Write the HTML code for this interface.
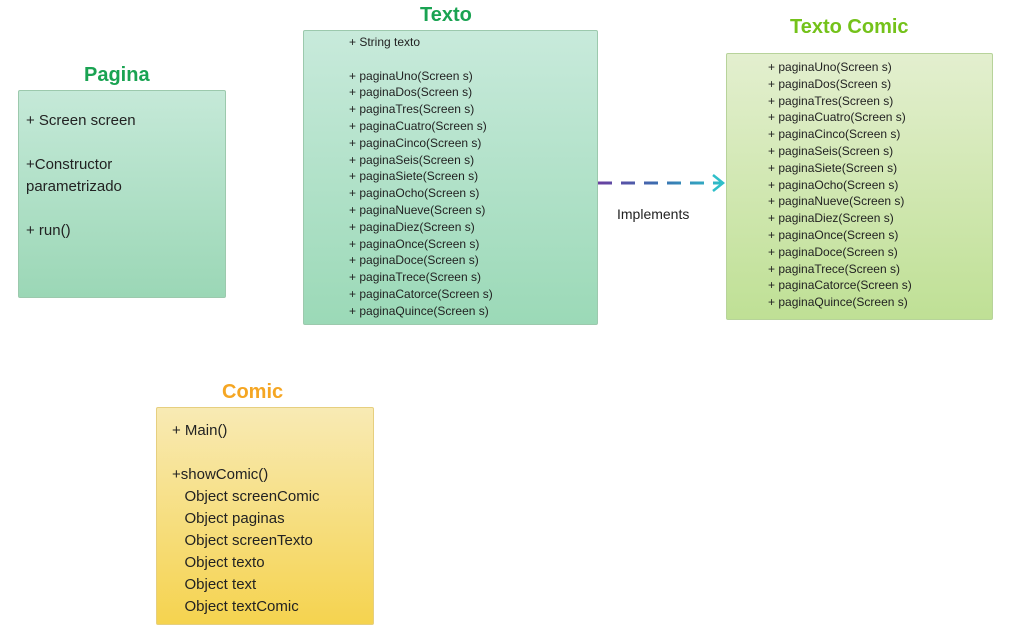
<!DOCTYPE html>
<html><head><meta charset="utf-8"><style>
body{margin:0;width:1017px;height:634px;background:#fff;position:relative;overflow:hidden;font-family:"Liberation Sans",sans-serif;color:#222}
.box{position:absolute;border:1px solid #9cc9ad;border-radius:2px;box-sizing:border-box}
.t{position:absolute;white-space:nowrap}
.title{position:absolute;font-weight:bold;font-size:20px;white-space:nowrap}
.l{position:absolute;white-space:nowrap;font-size:12px;line-height:16.8px}
</style></head><body>
<div class="title" style="left:84px;top:64px;color:#1aa352">Pagina</div>
<div class="box" style="left:18px;top:90px;width:208px;height:208px;background:linear-gradient(#c5e9d8,#9bd7b6)"></div>
<div class="t" style="left:26px;top:110px;font-size:15px;line-height:22px">+ Screen screen<br><br>+Constructor<br>parametrizado<br><br>+ run()</div>

<div class="title" style="left:420px;top:4px;color:#1aa352">Texto</div>
<div class="box" style="left:303px;top:30px;width:295px;height:295px;background:linear-gradient(#c8eadb,#9bd9b7)"></div>
<div class="l" style="left:349px;top:34px">+ String texto<br><br>+ paginaUno(Screen s)<br>+ paginaDos(Screen s)<br>+ paginaTres(Screen s)<br>+ paginaCuatro(Screen s)<br>+ paginaCinco(Screen s)<br>+ paginaSeis(Screen s)<br>+ paginaSiete(Screen s)<br>+ paginaOcho(Screen s)<br>+ paginaNueve(Screen s)<br>+ paginaDiez(Screen s)<br>+ paginaOnce(Screen s)<br>+ paginaDoce(Screen s)<br>+ paginaTrece(Screen s)<br>+ paginaCatorce(Screen s)<br>+ paginaQuince(Screen s)</div>

<div class="title" style="left:790px;top:16px;color:#74c21a">Texto Comic</div>
<div class="box" style="left:726px;top:53px;width:267px;height:267px;border-color:#b7d39a;background:linear-gradient(#e3efcf,#bfe095)"></div>
<div class="l" style="left:768px;top:59px">+ paginaUno(Screen s)<br>+ paginaDos(Screen s)<br>+ paginaTres(Screen s)<br>+ paginaCuatro(Screen s)<br>+ paginaCinco(Screen s)<br>+ paginaSeis(Screen s)<br>+ paginaSiete(Screen s)<br>+ paginaOcho(Screen s)<br>+ paginaNueve(Screen s)<br>+ paginaDiez(Screen s)<br>+ paginaOnce(Screen s)<br>+ paginaDoce(Screen s)<br>+ paginaTrece(Screen s)<br>+ paginaCatorce(Screen s)<br>+ paginaQuince(Screen s)</div>

<svg style="position:absolute;left:0;top:0" width="1017" height="634">
<defs><linearGradient id="g" gradientUnits="userSpaceOnUse" x1="598" y1="0" x2="722" y2="0"><stop offset="0" stop-color="#6a3fa0"/><stop offset="0.5" stop-color="#3a6fb0"/><stop offset="1" stop-color="#2fbfc9"/></linearGradient></defs>
<line x1="598" y1="183" x2="722" y2="183" stroke="url(#g)" stroke-width="3" stroke-dasharray="14,9"/>
<path d="M713 175 L723 183 L713 191" fill="none" stroke="#2fbfc9" stroke-width="2.5"/>
</svg>
<div class="t" style="left:617px;top:206px;font-size:14px">Implements</div>

<div class="title" style="left:222px;top:381px;color:#f5a623">Comic</div>
<div class="box" style="left:156px;top:407px;width:218px;height:218px;border-color:#e6cf7f;background:linear-gradient(#f8eab4,#f5d34f)"></div>
<div class="t" style="left:172px;top:420px;font-size:15px;line-height:22px">+ Main()<br><br>+showComic()<br>&nbsp;&nbsp;&nbsp;Object screenComic<br>&nbsp;&nbsp;&nbsp;Object paginas<br>&nbsp;&nbsp;&nbsp;Object screenTexto<br>&nbsp;&nbsp;&nbsp;Object texto<br>&nbsp;&nbsp;&nbsp;Object text<br>&nbsp;&nbsp;&nbsp;Object textComic</div>
</body></html>
